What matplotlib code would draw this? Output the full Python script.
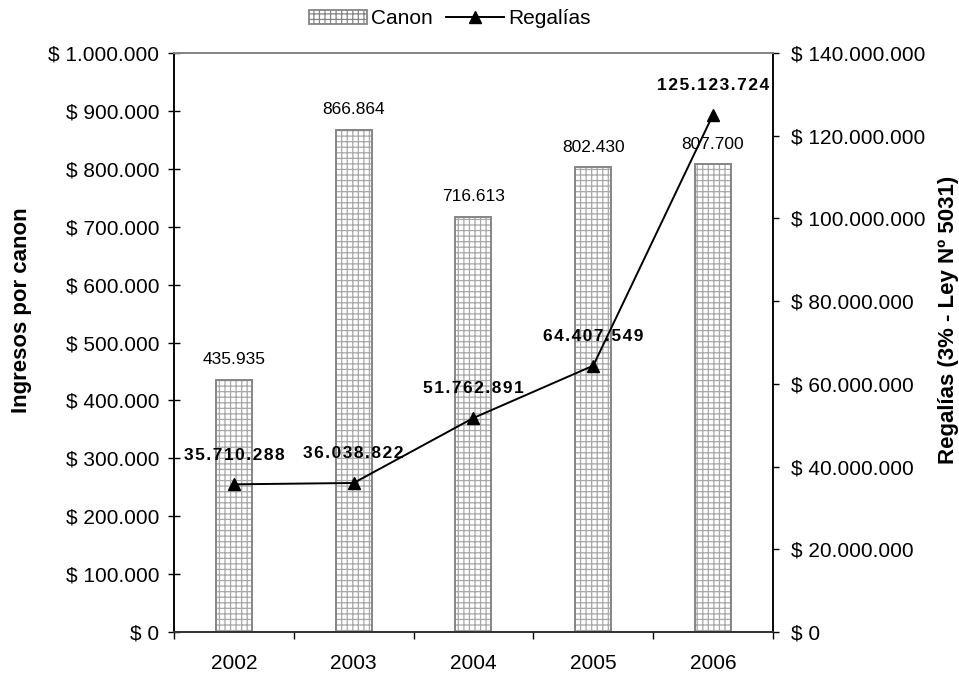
import matplotlib
matplotlib.use("Agg")
import matplotlib.pyplot as plt
from matplotlib.lines import Line2D
from matplotlib.patches import Patch
from matplotlib.ticker import FuncFormatter, FixedLocator


years = ["2002", "2003", "2004", "2005", "2006"]
canon = [435935, 866864, 716613, 802430, 807700]
regalias = [35710288, 36038822, 51762891, 64407549, 125123724]

LEFT_MAX = 1_000_000
RIGHT_MAX = 140_000_000

plt.rcParams["font.family"] = ["Liberation Sans", "DejaVu Sans"]
plt.rcParams["hatch.linewidth"] = 0.9

HATCH_GRAY = "#a8a8a8"
EDGE_GRAY = "#858585"


def miles(v, _pos=None):
    return "$ " + f"{int(round(v)):,}".replace(",", ".")


def spaced(text):
    # Excel-style letter spacing on the bold labels
    return "\u200a".join(text)


def main() -> None:
    fig = plt.figure(figsize=(9.59, 6.73), dpi=100)
    ax = fig.add_axes([0.1814, 0.0609, 0.6246, 0.8603])
    ax2 = ax.twinx()

    x = list(range(len(years)))

    # hatch in light grey, outline in darker grey
    ax.bar(x, canon, width=0.3, color="white", edgecolor=HATCH_GRAY,
           linewidth=0, hatch="+++", zorder=2)
    ax.bar(x, canon, width=0.3, fill=False, edgecolor=EDGE_GRAY,
           linewidth=1.4, zorder=2)
    for xi, v in zip(x, canon):
        ax.annotate(
            f"{v:,}".replace(",", "."),
            (xi, v),
            xytext=(0, 14.5),
            textcoords="offset points",
            ha="center",
            va="center",
            fontsize=12.5,
        )

    ax2.plot(x, regalias, color="black", linewidth=1.4, marker="^",
             markersize=9, zorder=3)
    for xi, v in zip(x, regalias):
        ax2.annotate(
            spaced(f"{v:,}".replace(",", ".")),
            (xi, v),
            xytext=(0, 21),
            textcoords="offset points",
            ha="center",
            va="center",
            fontsize=12.5,
            fontweight="bold",
        )

    ax.set_xlim(-0.5, len(years) - 0.5)
    ax.set_ylim(0, LEFT_MAX)
    ax2.set_ylim(0, RIGHT_MAX)

    ax.set_xticks(x)
    ax.set_xticklabels(years, fontsize=15)
    ax.xaxis.set_minor_locator(FixedLocator([i - 0.5 for i in range(len(years) + 1)]))
    ax.tick_params(axis="x", which="major", length=0, pad=16)
    ax.tick_params(axis="x", which="minor", length=5, direction="out", width=1, color="black")

    ax.set_yticks(range(0, LEFT_MAX + 1, 100_000))
    ax.yaxis.set_major_formatter(FuncFormatter(miles))
    ax.tick_params(axis="y", direction="inout", length=9, width=1, labelsize=15, pad=6)

    ax2.set_yticks(range(0, RIGHT_MAX + 1, 20_000_000))
    ax2.yaxis.set_major_formatter(FuncFormatter(miles))
    ax2.tick_params(axis="y", direction="out", length=4, width=1, labelsize=15, pad=9)

    for a in (ax, ax2):
        a.spines["top"].set_color(EDGE_GRAY)
        a.spines["top"].set_linewidth(1.3)
        a.spines["bottom"].set_color("#333333")
        a.spines["bottom"].set_linewidth(1.3)
        a.spines["left"].set_linewidth(1.1)
        a.spines["right"].set_linewidth(1.1)

    ax.set_ylabel("Ingresos por canon", fontsize=16, fontweight="bold")
    ax.yaxis.set_label_coords(-0.237, 0.556)
    ax2.set_ylabel("Regalías (3% - Ley Nº 5031)", fontsize=16,
                   fontweight="bold", rotation=90)
    ax2.yaxis.set_label_coords(1.2755, 0.539)

    handles = [
        Patch(facecolor="white", edgecolor=EDGE_GRAY, hatch="+++", linewidth=1.3),
        Line2D([0], [0], color="black", linewidth=1.4, marker="^", markersize=9),
    ]
    fig.legend(
        handles,
        ["Canon", "Regalías"],
        loc="center",
        bbox_to_anchor=(0.469, 0.972),
        ncol=2,
        frameon=False,
        fontsize=15,
        handlelength=2.8,
        handletextpad=0.2,
        columnspacing=0.6,
    )

    fig.savefig("out.png", dpi=100)
    plt.close(fig)


if __name__ == "__main__":
    main()
